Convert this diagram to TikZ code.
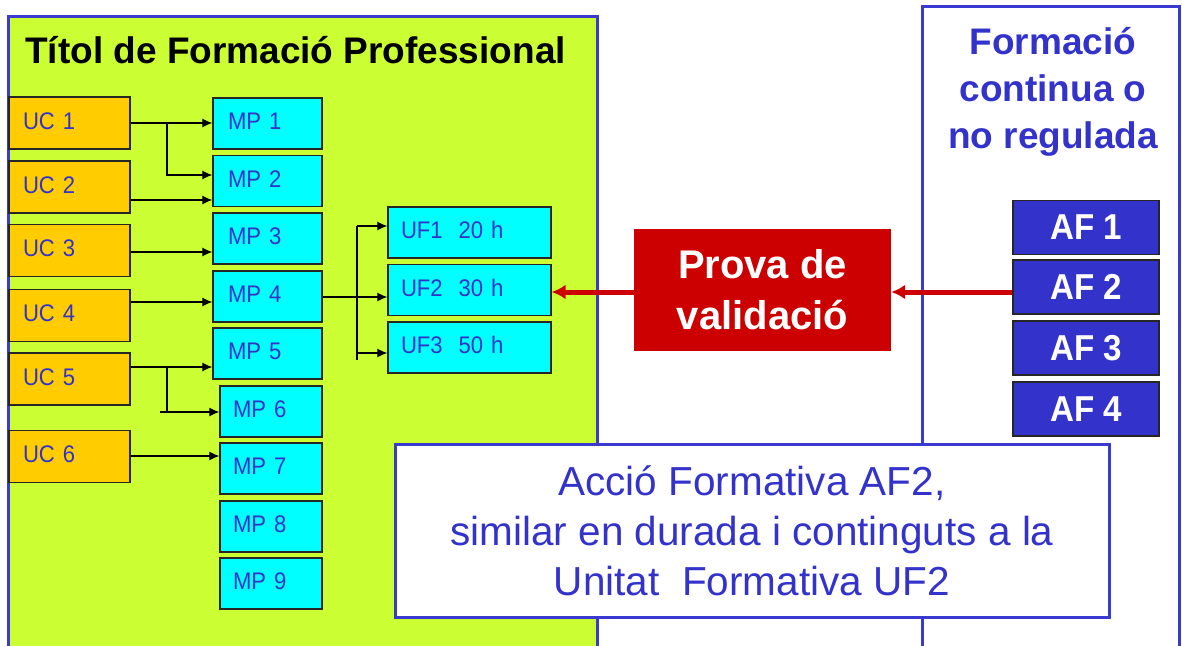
\documentclass[tikz,border=0pt]{standalone}
\usepackage{fontspec}
\setmainfont{Liberation Sans}
\newfontfamily\cellfont{Liberation Sans}[FakeStretch=0.92]
\usetikzlibrary{arrows.meta}
\definecolor{panelgreen}{HTML}{CCFF33}
\definecolor{ucorange}{HTML}{FFCC00}
\definecolor{mpcyan}{HTML}{00FFFF}
\definecolor{txtblue}{HTML}{3333CC}
\definecolor{bordblue}{HTML}{3A3AD0}
\definecolor{provared}{HTML}{CC0000}
\begin{document}
\begin{tikzpicture}[x=1pt,y=-1pt,
  panelline/.style={draw=bordblue, line width=3pt},
  cell/.style={draw=black!85, line width=1.3pt, inner ysep=0pt, minimum height=51pt,
    align=left, text=txtblue, text height=17.5pt, text depth=5pt,
    font=\cellfont\fontsize{24}{28}\selectfont},
  ucbox/.style={cell, fill=ucorange, inner xsep=14pt, text width=93pt, minimum height=52pt},
  mpbox/.style={cell, fill=mpcyan, inner xsep=15pt, text width=79pt},
  mpboxn/.style={cell, fill=mpcyan, inner xsep=13pt, text width=76pt},
  ufbox/.style={cell, fill=mpcyan, inner xsep=13pt, text width=137pt},
  afbox/.style={draw=black!85, line width=1.3pt, fill=txtblue, text=white,
    minimum width=146pt, minimum height=54pt, inner sep=0pt,
    font=\cellfont\bfseries\fontsize{36}{40}\selectfont},
  arr/.style={-{Latex[length=10pt,width=9pt]}, line width=1.2pt, black},
  plain/.style={line width=1.2pt, black},
  redarr/.style={-{Latex[length=14pt,width=15pt]}, line width=5pt, provared}
]
\useasboundingbox (0,0) rectangle (1182,645);
\clip (0,0) rectangle (1182,645);
% panels
\fill[panelgreen] (8,16) rectangle (597,660);
\draw[panelline] (8,660) -- (8,16) -- (597,16) -- (597,660);
\draw[panelline] (922,660) -- (922,6) -- (1179,6) -- (1179,660);
% titles
\node[anchor=base west, inner sep=0pt, font=\bfseries\fontsize{37}{44}\selectfont] (title) at (25,63) {Títol de Formació Professional};
\node[align=center, inner sep=0pt, text=txtblue, font=\bfseries\fontsize{37}{47}\selectfont] (rtitle) at (1053,92) {Formació\\continua o\\no regulada};
% UC boxes
\node[ucbox] (uc1) at (69.5,123) {UC 1};
\node[ucbox] (uc2) at (69.5,187) {UC 2};
\node[ucbox] (uc3) at (69.5,250.5) {UC 3};
\node[ucbox] (uc4) at (69.5,315.5) {UC 4};
\node[ucbox] (uc5) at (69.5,379) {UC 5};
\node[ucbox] (uc6) at (69.5,456.5) {UC 6};
% MP boxes
\node[mpbox] (mp1) at (267.5,123.5) {MP 1};
\node[mpbox] (mp2) at (267.5,181) {MP 2};
\node[mpbox] (mp3) at (267.5,238.5) {MP 3};
\node[mpbox] (mp4) at (267.5,296.5) {MP 4};
\node[mpbox] (mp5) at (267.5,353.5) {MP 5};
\node[mpboxn] (mp6) at (271,411.5) {MP 6};
\node[mpboxn] (mp7) at (271,468.5) {MP 7};
\node[mpboxn] (mp8) at (271,526.5) {MP 8};
\node[mpboxn] (mp9) at (271,583.5) {MP 9};
% UF boxes
\node[ufbox] (uf1) at (469.5,232.5) {UF1\ \ 20 h};
\node[ufbox] (uf2) at (469.5,290) {UF2\ \ 30 h};
\node[ufbox] (uf3) at (469.5,347.5) {UF3\ \ 50 h};
% AF boxes
\node[afbox] (af1) at (1086,227.5) {AF 1};
\node[afbox] (af2) at (1086,287) {AF 2};
\node[afbox] (af3) at (1086,348) {AF 3};
\node[afbox] (af4) at (1086,409) {AF 4};
% Prova
\node[fill=provared, minimum width=257pt, minimum height=122pt, inner sep=0pt,
  align=center, text=white, font=\bfseries\fontsize{40}{51}\selectfont] (prova) at (762.5,290) {Prova de\\validació};
% connectors UC -> MP
\draw[arr] (uc1.east) -- (uc1.east -| mp1.west);
\coordinate (j1) at (167,123);
\draw[arr] (j1) |- (mp2.west |- 0,175);
\draw[arr] (uc2.east |- 0,200) -- (mp2.west |- 0,200);
\draw[arr] (uc3.east |- 0,252) -- (mp3.west |- 0,252);
\draw[arr] (uc4.east |- 0,302) -- (mp4.west |- 0,302);
\draw[arr] (uc5.east |- 0,367) -- (mp5.west |- 0,367);
\coordinate (j5) at (167,367);
\coordinate (j6) at (160,412);
\draw[plain] (j5) -- (j5 |- j6);
\draw[arr] (j6) -- (mp6.west |- j6);
\draw[arr] (uc6.east |- 0,456) -- (mp7.west |- 0,456);
% MP4 -> UF
\draw[arr] (mp4.east |- 0,297) -- (uf2.west |- 0,297);
\coordinate (k1) at (357,226);
\coordinate (k3) at (357,360);
\draw[plain] (k1) -- (k3);
\draw[arr] (k1) -- (uf1.west |- k1);
\draw[arr] (k1 |- 0,353) -- (uf3.west |- 0,353);
% red arrows
\draw[redarr] (af2.west |- 0,292) -- (prova.east |- 0,292);
\draw[redarr] (prova.west |- 0,292) -- (uf2.east |- 0,292);
% bottom box
\node[draw=bordblue, line width=3pt, fill=white, minimum width=714pt, minimum height=173pt,
  align=center, text=txtblue, font=\fontsize{40.5}{50}\selectfont] (note) at (752,531)
  {Acció Formativa AF2,\\similar en durada i continguts a la\\Unitat\ \ Formativa UF2};
\end{tikzpicture}
\end{document}
